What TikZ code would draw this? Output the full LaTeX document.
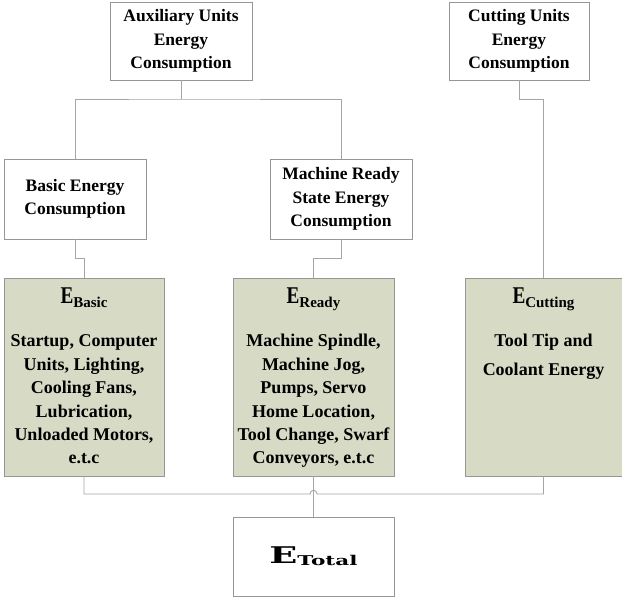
\documentclass[tikz,border=0pt]{standalone}
\usepackage{fontspec}
\setmainfont{Liberation Serif}
\newfontfamily\wideserif{DejaVu Serif}
\usetikzlibrary{positioning}
\definecolor{boxgray}{RGB}{150,150,150}
\definecolor{linegray}{RGB}{165,165,165}
\definecolor{boxgreen}{RGB}{215,219,198}
\newcommand{\Elabel}[1]{\scalebox{0.8}[1]{\fontsize{24}{26}\selectfont E}\raisebox{-4pt}{\fontsize{15}{16}\selectfont #1}}

\begin{document}
\begin{tikzpicture}[x=1pt,y=-1pt,
  unitbox/.style={draw=boxgray,fill=white,line width=0.9pt,inner sep=0pt,align=center,
    font=\fontsize{17.5}{23.4}\selectfont\bfseries},
  ebox/.style={draw=boxgray,fill=boxgreen,line width=0.9pt,minimum width=160pt,minimum height=198pt},
  etext/.style={inner sep=0pt,align=center,font=\fontsize{18}{23.4}\selectfont\bfseries},
  link/.style={draw=linegray,line width=0.9pt}]
\useasboundingbox (0,0) rectangle (622,597);
% Top level
\node[unitbox,minimum width=142pt,minimum height=78pt] (aux) at (181,41) {Auxiliary Units\\Energy\\Consumption};
\node[unitbox,minimum width=140pt,minimum height=78pt] (cut) at (519,41) {Cutting Units\\Energy\\Consumption};
% Second level
\node[unitbox,minimum width=142pt,minimum height=80pt] (basic) at (75,199) {Basic Energy\\Consumption};
\node[unitbox,minimum width=142pt,minimum height=80pt] (ready) at (341,199) {Machine Ready\\State Energy\\Consumption};
% Energy boxes
\node[ebox] (ebasic) at (84,377) {};
\node[ebox,minimum width=161pt] (eready) at (313.5,377) {};
\node[ebox,minimum width=157pt] (ecut) at (543.5,377) {};
\node[etext,below=10pt of ebasic.north] (ebasictxt) {\Elabel{Basic}\\[20pt]Startup, Computer\\Units, Lighting,\\Cooling Fans,\\Lubrication,\\Unloaded Motors,\\e.t.c};
\node[etext,below=10pt of eready.north] (eredytxt) {\Elabel{Ready}\\[20pt]Machine Spindle,\\Machine Jog,\\Pumps, Servo\\Home Location,\\Tool Change, Swarf\\Conveyors, e.t.c};
\node[etext,below=10pt of ecut.north] (ecuttxt) {\Elabel{Cutting}\\[20pt]Tool Tip and\\[5pt]Coolant Energy};
% Total
\node[draw=boxgray,fill=white,line width=0.9pt,minimum width=161pt,minimum height=79pt] (total) at (313.5,556.5)
  {\scalebox{1.6}[1]{\wideserif\bfseries\fontsize{23}{26}\selectfont E\raisebox{-2pt}{\fontsize{13.5}{15}\selectfont Total}}};
% Connectors
\coordinate (split) at (181,99);
\draw[link] (aux.south) -- (split);
\draw[link] (basic.north) |- (split) -| (ready.north);
\draw[link] (cut.south) -- ++(0,19) -| (ecut.north);
\draw[link] (basic.south) -- ++(0,19) -| (ebasic.north);
\draw[link] (ready.south) -- ++(0,19) -| (eready.north);
\coordinate (hopl) at (310,494);
\coordinate (hopr) at (317,494);
\draw[link] (ebasic.south) |- (hopl) .. controls (310,489) and (317,489) .. (hopr) -| (ecut.south);
\draw[link] (eready.south) -- (total.north);
\end{tikzpicture}
\end{document}
